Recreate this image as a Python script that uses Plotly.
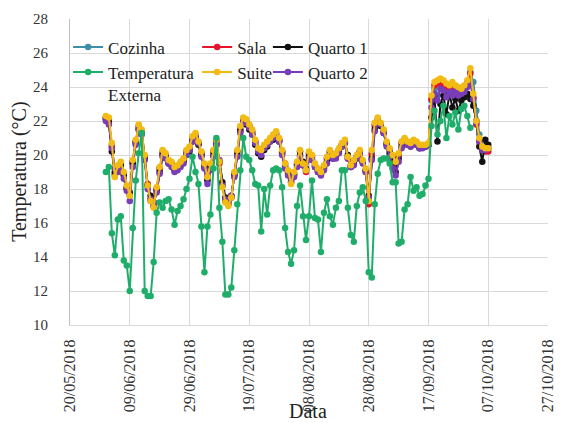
import pandas as pd
import plotly.graph_objects as go

# Daily readings, 01/06/2018 .. 07/10/2018
dates = pd.date_range("2018-06-01", periods=129, freq="D")

cozinha = [22.2, 22.1, 20.6, 18.8, 19.3, 19.5, 18.9, 18.1, 17.6, 19.6,
           20.8, 21.6, 21.4, 19.9, 18.2, 17.3, 17.0, 18.0, 19.2, 20.2,
           20.0, 19.6, 19.5, 19.2, 19.3, 19.5, 19.7, 20.2, 20.4, 21.0,
           21.2, 20.7, 20.1, 19.4, 18.6, 19.4, 20.2, 20.8, 19.6, 18.2,
           17.3, 17.1, 17.5, 18.9, 20.2, 21.6, 22.1, 22.0, 21.7, 21.4,
           20.8, 20.3, 20.2, 20.5, 20.7, 20.9, 21.1, 21.3, 20.9, 20.2,
           19.4, 19.0, 18.4, 18.9, 19.5, 20.2, 19.5, 19.1, 20.1, 19.9,
           19.4, 19.1, 18.9, 19.3, 19.8, 20.2, 19.9, 20.0, 20.3, 20.6,
           20.8, 19.9, 19.3, 19.6, 19.9, 20.2, 19.6, 19.1, 17.4, 20.1,
           21.8, 22.1, 21.8, 21.4, 20.7, 20.3, 19.9, 19.4, 20.0, 20.7,
           20.9, 20.7, 20.6, 20.8, 20.7, 20.5, 20.5, 20.5, 20.6, 23.2,
           23.9, 23.5, 24.1, 24.0, 23.6, 23.8, 23.9, 23.7, 23.6, 23.8,
           24.0, 24.3, 24.9, 24.3, 22.6, 21.2, 20.5, 20.4, 20.4]

sala = [22.2, 22.0, 20.5, 18.9, 19.3, 19.5, 18.9, 18.1, 17.7, 19.6,
        20.8, 21.7, 21.4, 19.9, 18.3, 17.4, 17.0, 18.0, 19.2, 20.1,
        20.0, 19.6, 19.5, 19.2, 19.3, 19.5, 19.7, 20.2, 20.4, 20.9,
        21.1, 20.7, 20.1, 19.4, 18.8, 19.4, 20.2, 20.8, 19.5, 18.2,
        17.3, 17.1, 17.5, 18.9, 20.2, 21.5, 22.0, 21.9, 21.7, 21.3,
        20.8, 20.3, 20.2, 20.5, 20.7, 20.9, 21.1, 21.2, 20.9, 20.2,
        19.5, 19.0, 18.4, 18.9, 19.5, 20.2, 19.4, 19.0, 20.1, 19.9,
        19.4, 19.1, 19.0, 19.3, 19.8, 20.2, 19.9, 20.0, 20.3, 20.6,
        20.8, 19.8, 19.3, 19.6, 19.9, 20.2, 19.6, 19.0, 17.1, 20.0,
        21.7, 22.0, 21.8, 21.4, 20.7, 20.3, 19.9, 19.5, 20.0, 20.7,
        20.9, 20.7, 20.6, 20.8, 20.7, 20.5, 20.5, 20.5, 20.6, 23.3,
        24.1, 24.2, 24.3, 24.2, 24.0, 23.9, 24.1, 23.9, 23.8, 23.7,
        23.9, 24.2, 24.8, 23.4, 21.8, 20.8, 20.3, 20.2, 20.2]

quarto1 = [22.1, 21.9, 20.2, 19.0, 19.2, 19.4, 18.8, 18.0, 17.8, 19.5,
           20.7, 21.5, 21.3, 19.8, 18.2, 17.6, 17.2, 17.9, 19.0, 20.0,
           19.9, 19.5, 19.4, 19.1, 19.2, 19.4, 19.6, 20.0, 20.2, 20.8,
           21.0, 20.6, 20.0, 19.3, 18.5, 19.2, 20.0, 20.6, 19.6, 18.4,
           17.5, 17.3, 17.6, 18.8, 20.0, 21.4, 21.9, 21.8, 21.5, 21.2,
           20.6, 20.1, 19.9, 20.3, 20.5, 20.8, 20.9, 21.1, 20.8, 20.1,
           19.3, 18.9, 18.6, 18.8, 19.4, 20.0, 19.6, 19.2, 19.9, 19.7,
           19.3, 19.0, 18.9, 19.2, 19.6, 20.1, 19.8, 19.9, 20.2, 20.5,
           20.7, 20.0, 19.4, 19.5, 19.8, 20.1, 19.6, 19.1, 17.6, 19.8,
           21.5, 21.9, 21.7, 21.3, 20.6, 20.1, 19.6, 19.0, 19.8, 20.5,
           20.8, 20.6, 20.5, 20.7, 20.6, 20.4, 20.5, 20.5, 20.6, 22.2,
           23.4, 20.8, 23.0, 23.5, 22.4, 23.6, 22.8, 23.3, 22.6, 23.2,
           23.4, 23.6, 23.3, 22.9, 22.0, 20.5, 19.6, 20.9, 20.6]

quarto2 = [22.0, 21.8, 20.4, 19.2, 19.0, 19.1, 18.6, 17.9, 17.3, 19.3,
           20.6, 21.5, 21.2, 19.7, 18.0, 17.4, 17.2, 17.8, 18.9, 19.9,
           19.8, 19.5, 19.3, 19.0, 19.1, 19.3, 19.5, 20.0, 20.3, 20.8,
           21.0, 20.7, 19.9, 19.2, 18.3, 19.1, 19.9, 20.6, 19.7, 18.2,
           17.4, 17.3, 17.6, 18.7, 19.9, 21.3, 21.9, 21.9, 21.6, 21.2,
           20.7, 20.2, 20.0, 20.4, 20.6, 20.8, 21.0, 21.1, 20.8, 20.0,
           19.2, 18.8, 18.5, 18.7, 19.3, 19.9, 19.4, 19.1, 19.8, 19.7,
           19.3, 19.0, 18.8, 19.1, 19.5, 20.0, 19.8, 19.8, 20.1, 20.5,
           20.7, 19.8, 19.3, 19.4, 19.8, 20.1, 19.5, 19.0, 17.5, 19.7,
           21.4, 21.9, 21.8, 21.3, 20.5, 19.9, 19.2, 18.8, 19.6, 20.4,
           20.8, 20.6, 20.5, 20.7, 20.6, 20.4, 20.4, 20.5, 20.6, 22.8,
           23.6, 23.2, 23.9, 23.8, 23.4, 23.7, 23.5, 23.8, 23.5, 23.6,
           23.7, 24.0, 24.2, 23.3, 21.9, 20.8, 20.3, 20.3, 20.4]

suite = [22.3, 22.2, 20.7, 18.7, 19.4, 19.6, 19.0, 18.2, 17.6, 19.7,
         20.9, 21.8, 21.5, 20.0, 18.2, 17.3, 16.9, 18.1, 19.3, 20.3,
         20.1, 19.7, 19.6, 19.3, 19.4, 19.6, 19.8, 20.3, 20.5, 21.1,
         21.3, 20.8, 20.2, 19.5, 18.7, 19.5, 20.3, 20.9, 19.6, 18.1,
         17.2, 17.0, 17.5, 19.0, 20.3, 21.7, 22.2, 22.1, 21.8, 21.5,
         20.9, 20.4, 20.3, 20.6, 20.8, 21.0, 21.2, 21.4, 21.0, 20.3,
         19.5, 19.1, 18.3, 19.0, 19.6, 20.3, 19.5, 19.1, 20.2, 20.0,
         19.5, 19.2, 19.0, 19.4, 19.9, 20.3, 20.0, 20.1, 20.4, 20.7,
         20.9, 19.9, 19.4, 19.7, 20.0, 20.3, 19.7, 19.2, 17.3, 20.3,
         21.9, 22.2, 21.9, 21.5, 20.8, 20.4, 20.0, 19.6, 20.1, 20.8,
         21.0, 20.8, 20.7, 20.9, 20.8, 20.6, 20.6, 20.6, 20.7, 23.5,
         24.3, 24.4, 24.5, 24.4, 24.2, 24.1, 24.3, 24.1, 24.0, 23.9,
         24.1, 24.4, 25.1, 23.6, 22.0, 21.0, 20.5, 20.4, 20.4]

externa = [19.0, 19.3, 15.4, 14.1, 16.2, 16.4, 13.8, 13.5, 12.0, 15.7,
           18.5, 20.1, 21.3, 12.0, 11.7, 11.7, 13.7, 16.6, 17.2, 16.9,
           17.3, 17.4, 16.8, 15.9, 16.7, 17.0, 17.4, 18.0, 18.6, 19.9,
           19.0, 18.3, 15.8, 13.1, 15.8, 16.5, 19.2, 21.0, 16.9, 14.9,
           11.8, 11.8, 12.2, 14.4, 17.1, 19.1, 21.0, 19.9, 19.7, 19.1,
           18.3, 18.2, 15.5, 18.0, 16.5, 18.2, 19.1, 19.2, 19.1, 18.1,
           15.7, 14.3, 13.6, 14.4, 17.0, 18.2, 16.4, 15.0, 16.4, 18.5,
           16.3, 16.2, 14.3, 16.6, 17.4, 16.4, 15.9, 16.9, 17.3, 19.1,
           19.1, 16.9, 15.3, 14.9, 17.0, 17.8, 18.1, 17.3, 13.1, 12.8,
           17.1, 18.9, 19.7, 19.8, 19.8, 19.5, 18.4, 18.4, 14.8, 14.9,
           16.8, 17.1, 18.7, 17.9, 18.1, 17.6, 17.7, 18.2, 18.6, 21.7,
           22.6, 21.2, 22.0, 22.9, 21.0, 22.3, 21.8, 22.5, 21.5, 22.7,
           22.9, 22.3, 21.6, None, None, None, None, None, None]

# name, values, colour, legend column
series = [
    ("Cozinha", cozinha, "#3d8ea8", "legend"),
    ("Sala", sala, "#e3142c", "legend2"),
    ("Quarto 1", quarto1, "#111111", "legend3"),
    ("Quarto 2", quarto2, "#7a3db8", "legend3"),
    ("Suite", suite, "#f2bc14", "legend2"),
    ("Temperatura<br>Externa", externa, "#1fae6a", "legend"),
]

FONT = "Liberation Serif"

fig = go.Figure()
for name, vals, color, leg in series:
    fig.add_trace(go.Scatter(
        x=dates, y=vals, name=name, mode="lines+markers",
        line=dict(color=color, width=2),
        marker=dict(color=color, size=6.5),
        legend=leg,
    ))

legend_common = dict(
    orientation="v", yanchor="top", xanchor="left",
    bgcolor="rgba(0,0,0,0)", borderwidth=0,
    font=dict(family=FONT, size=17, color="#222222"),
    valign="top", tracegroupgap=0,
)

fig.update_layout(
    width=567, height=423,
    margin=dict(l=70, r=11, t=17, b=97),
    paper_bgcolor="white", plot_bgcolor="white",
    font=dict(family=FONT, size=15, color="#333333"),
    legend=dict(x=-0.004, y=0.966, **legend_common),
    legend2=dict(x=0.266, y=0.966, **legend_common),
    legend3=dict(x=0.414, y=0.966, **legend_common),
    xaxis=dict(
        type="date",
        range=["2018-05-20", "2018-10-27"],
        tick0="2018-05-20", dtick=20 * 86400000,
        tickformat="%d/%m/%Y", tickangle=-90,
        showgrid=True, gridcolor="#d9d9d9", gridwidth=1,
        showline=True, linecolor="#d9d9d9",
        zeroline=False, ticks="",
        tickfont=dict(family=FONT, size=16, color="#333333"),
        ticklabelstandoff=7,
    ),
    yaxis=dict(
        range=[10, 28], dtick=2, tick0=10,
        showgrid=True, gridcolor="#d9d9d9", gridwidth=1,
        showline=True, linecolor="#bfbfbf",
        zeroline=False, ticks="",
        tickfont=dict(family=FONT, size=15, color="#333333"),
        ticklabelstandoff=18,
    ),
    annotations=[
        dict(text="Temperatura (°C)", xref="paper", yref="paper",
             x=-0.107, y=0.5, xanchor="center", yanchor="middle",
             textangle=-90, showarrow=False,
             font=dict(family=FONT, size=20, color="#222222")),
        dict(text="Data", xref="paper", yref="paper",
             x=0.498, y=-0.282, xanchor="center", yanchor="middle",
             showarrow=False,
             font=dict(family=FONT, size=20, color="#222222")),
    ],
)

fig.write_html("out.html")
